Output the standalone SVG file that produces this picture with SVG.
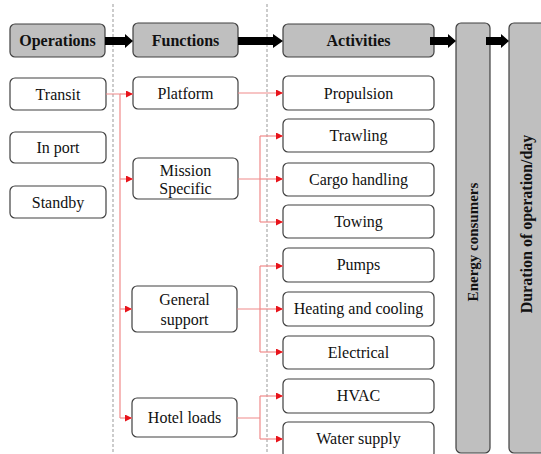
<svg xmlns="http://www.w3.org/2000/svg" width="541" height="454" viewBox="0 0 541 454">
  <defs>
    <marker id="redHead" viewBox="0 0 6 6" refX="6" refY="3" markerWidth="7" markerHeight="7" markerUnits="userSpaceOnUse" orient="auto">
      <path d="M0,0 L6,3 L0,6 z" fill="#e8141b"/>
    </marker>
    <style>
      .hdr { fill: #bfbfbf; stroke: #404040; stroke-width: 1.2; }
      .box { fill: #ffffff; stroke: #404040; stroke-width: 1.2; }
      .hdrText { font-family: "Liberation Serif", "Times New Roman", serif; font-weight: bold; font-size: 16px; fill: #111; text-anchor: middle; }
      .vText { font-size: 15px; }
      .txt { font-family: "Liberation Serif", "Times New Roman", serif; font-size: 16px; fill: #111; text-anchor: middle; }
      .divider { stroke: #999; stroke-width: 1; stroke-dasharray: 3 2; fill: none; }
      .link { stroke: #f08a8a; stroke-width: 1.2; fill: none; }
      .linkEnd { stroke: #f08a8a; stroke-width: 1.2; fill: none; marker-end: url(#redHead); }
      .bigArrow { fill: #000; }
    </style>
  </defs>

  <!-- column dividers -->
  <g id="dividers">
    <line class="divider" x1="113" y1="4" x2="113" y2="454"/>
    <line class="divider" x1="267" y1="4" x2="267" y2="454"/>
  </g>

  <!-- column headers -->
  <g id="hdr-operations">
    <rect class="hdr" x="10" y="24" width="95" height="33" rx="5"/>
    <text class="hdrText" x="57.5" y="46">Operations</text>
  </g>
  <g id="hdr-functions">
    <rect class="hdr" x="133" y="23" width="105" height="34" rx="5"/>
    <text class="hdrText" x="185.5" y="46">Functions</text>
  </g>
  <g id="hdr-activities">
    <rect class="hdr" x="283" y="24" width="151" height="33" rx="5"/>
    <text class="hdrText" x="358.5" y="46">Activities</text>
  </g>
  <g id="hdr-energy">
    <rect class="hdr" x="456" y="23" width="34" height="430" rx="5"/>
    <text class="hdrText vText" transform="translate(478 242) rotate(-90)">Energy consumers</text>
  </g>
  <g id="hdr-duration">
    <rect class="hdr" x="509" y="23" width="40" height="430" rx="5"/>
    <text class="hdrText" transform="translate(532 224) rotate(-90)">Duration of operation/day</text>
  </g>

  <!-- operations -->
  <g id="op-transit">
    <rect class="box" x="10" y="78" width="96" height="32" rx="5"/>
    <text class="txt" x="58" y="100">Transit</text>
  </g>
  <g id="op-inport">
    <rect class="box" x="10" y="132" width="96" height="31" rx="5"/>
    <text class="txt" x="58" y="153">In port</text>
  </g>
  <g id="op-standby">
    <rect class="box" x="10" y="186" width="96" height="32" rx="5"/>
    <text class="txt" x="58" y="208">Standby</text>
  </g>

  <!-- functions -->
  <g id="fn-platform">
    <rect class="box" x="133" y="77" width="105" height="32" rx="5"/>
    <text class="txt" x="185.5" y="99">Platform</text>
  </g>
  <g id="fn-mission">
    <rect class="box" x="133" y="158" width="105" height="41" rx="5"/>
    <text class="txt" x="185.5" y="176">Mission</text>
    <text class="txt" x="185.5" y="194">Specific</text>
  </g>
  <g id="fn-general">
    <rect class="box" x="132" y="286" width="105" height="46" rx="5"/>
    <text class="txt" x="184.5" y="305">General</text>
    <text class="txt" x="184.5" y="325">support</text>
  </g>
  <g id="fn-hotel">
    <rect class="box" x="132" y="398" width="105" height="39" rx="5"/>
    <text class="txt" x="184.5" y="423">Hotel loads</text>
  </g>

  <!-- activities -->
  <g id="act-propulsion">
    <rect class="box" x="283" y="76" width="151" height="34" rx="5"/>
    <text class="txt" x="358.5" y="99">Propulsion</text>
  </g>
  <g id="act-trawling">
    <rect class="box" x="283" y="119" width="151" height="33" rx="5"/>
    <text class="txt" x="358.5" y="141">Trawling</text>
  </g>
  <g id="act-cargo">
    <rect class="box" x="283" y="163" width="151" height="33" rx="5"/>
    <text class="txt" x="358.5" y="185">Cargo handling</text>
  </g>
  <g id="act-towing">
    <rect class="box" x="283" y="205" width="151" height="33" rx="5"/>
    <text class="txt" x="358.5" y="227">Towing</text>
  </g>
  <g id="act-pumps">
    <rect class="box" x="283" y="248" width="151" height="34" rx="5"/>
    <text class="txt" x="358.5" y="270">Pumps</text>
  </g>
  <g id="act-heating">
    <rect class="box" x="283" y="292" width="151" height="34" rx="5"/>
    <text class="txt" x="358.5" y="314">Heating and cooling</text>
  </g>
  <g id="act-electrical">
    <rect class="box" x="283" y="336" width="151" height="33" rx="5"/>
    <text class="txt" x="358.5" y="358">Electrical</text>
  </g>
  <g id="act-hvac">
    <rect class="box" x="283" y="379" width="151" height="34" rx="5"/>
    <text class="txt" x="358.5" y="401">HVAC</text>
  </g>
  <g id="act-water">
    <rect class="box" x="283" y="422" width="151" height="36" rx="5"/>
    <text class="txt" x="358.5" y="444">Water supply</text>
  </g>

  <!-- connectors -->
  <g id="connectors">
    <!-- header flow arrows -->
    <path class="bigArrow" d="M105,37 L125,37 L125,34 L133,41 L125,48 L125,45 L105,45 z"/>
    <path class="bigArrow" d="M238,37 L273,37 L273,34 L283,41 L273,48 L273,45 L238,45 z"/>
    <path class="bigArrow" d="M430,37 L448,37 L448,34 L456,41 L448,48 L448,45 L430,45 z"/>
    <path class="bigArrow" d="M486,37 L501,37 L501,34 L509,41 L501,48 L501,45 L486,45 z"/>

    <!-- Transit to functions -->
    <path class="link" d="M106,94 L120,94 L120,418"/>
    <path class="linkEnd" d="M120,94 L133,94"/>
    <path class="linkEnd" d="M120,179 L133,179"/>
    <path class="linkEnd" d="M120,309 L132,309"/>
    <path class="linkEnd" d="M120,418 L132,418"/>

    <!-- Platform -->
    <path class="linkEnd" d="M238,93 L283,93"/>

    <!-- Mission specific -->
    <path class="link" d="M238,179 L260,179 M260,136 L260,222"/>
    <path class="linkEnd" d="M260,136 L283,136"/>
    <path class="linkEnd" d="M260,179 L283,179"/>
    <path class="linkEnd" d="M260,222 L283,222"/>

    <!-- General support -->
    <path class="link" d="M237,309 L260,309 M260,266 L260,352"/>
    <path class="linkEnd" d="M260,266 L283,266"/>
    <path class="linkEnd" d="M260,309 L283,309"/>
    <path class="linkEnd" d="M260,352 L283,352"/>

    <!-- Hotel loads -->
    <path class="link" d="M237,418 L260,418 M260,396 L260,439"/>
    <path class="linkEnd" d="M260,396 L283,396"/>
    <path class="linkEnd" d="M260,439 L283,439"/>
  </g>
</svg>
